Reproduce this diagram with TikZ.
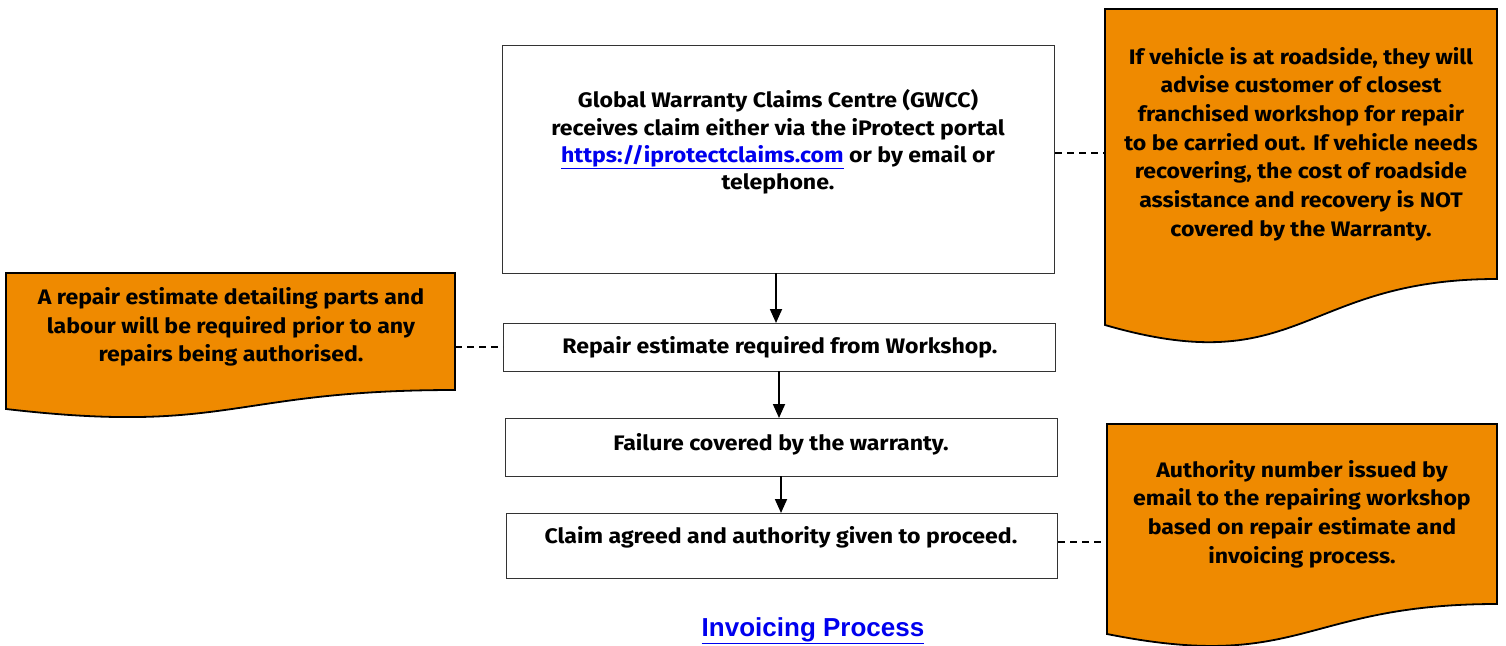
\documentclass[tikz,border=0pt]{standalone}
\usepackage{fontspec}
\setmainfont{Fira Sans}[FakeStretch=1.1]
\newfontfamily\arialfont{Liberation Sans}
\usetikzlibrary{arrows.meta}
\definecolor{noteorange}{RGB}{239,138,0}
\definecolor{linkblue}{RGB}{0,0,238}
\begin{document}
\begin{tikzpicture}[x=1pt,y=-1pt,
  flowbox/.style={draw=black!80, line width=1.2pt, fill=white, inner sep=0, anchor=north west},
  notepath/.style={draw=black, line width=1.8pt, fill=noteorange},
  txt/.style={font=\fontsize{21}{28}\selectfont\bfseries, align=center, inner sep=0},
  flowarrow/.style={-{Triangle[length=14pt,width=12pt]}, line width=1.8pt},
  notelink/.style={line width=1.4pt, dash pattern=on 7pt off 5pt}]
\useasboundingbox (0,0) rectangle (1506,645);
\fill[white] (0,0) rectangle (1506,645);

% flow boxes
\node[flowbox, minimum width=552pt, minimum height=228pt] (gwcc) at (502,45) {};
\node[flowbox, minimum width=552pt, minimum height=48pt] (repair) at (503,323) {};
\node[flowbox, minimum width=552pt, minimum height=58pt] (failure) at (505,418) {};
\node[flowbox, minimum width=551pt, minimum height=65pt] (claim) at (506,513) {};

\node[txt, font=\fontsize{21}{27.3}\selectfont\bfseries] (gwcctext) at (778,142) {Global Warranty Claims Centre (GWCC)\\receives claim either via the iProtect portal\\{\color{linkblue}\underline{https://iprotectclaims.com}} or by email or\\telephone.};
\node[txt] (repairtext) at (780,347) {Repair estimate required from Workshop.};
\node[txt] (failuretext) at (781,444) {Failure covered by the warranty.};
\node[txt] (claimtext) at (781,537) {Claim agreed and authority given to proceed.};

% notes
\draw[notepath] (1105,9) -- (1497,9) -- (1497,279) .. controls (1301,279) and (1301,382) .. (1105,325) -- cycle;
\coordinate (n1w) at (1105,153);
\node[txt, font=\fontsize{21}{28.7}\selectfont\bfseries] (n1text) at (1301,144) {If vehicle is at roadside, they will\\advise customer of closest\\franchised workshop for repair\\to be carried out. If vehicle needs\\recovering, the cost of roadside\\assistance and recovery is NOT\\covered by the Warranty.};

\draw[notepath] (6,273) -- (455,273) -- (455,390) .. controls (230,390) and (230,435) .. (6,409) -- cycle;
\coordinate (n2e) at (455,347);
\node[txt, font=\fontsize{21}{28.7}\selectfont\bfseries] (n2text) at (231,327) {A repair estimate detailing parts and\\labour will be required prior to any\\repairs being authorised.};

\draw[notepath] (1107,424) -- (1497,424) -- (1497,604) .. controls (1302,604) and (1302,673) .. (1107,634) -- cycle;
\coordinate (n3w) at (1107,542);
\node[txt, font=\fontsize{21}{28.7}\selectfont\bfseries] (n3text) at (1302,514) {Authority number issued by\\email to the repairing workshop\\based on repair estimate and\\invoicing process.};

% connectors
\draw[flowarrow] (776,273) -- (776,323);
\draw[flowarrow] (779,371) -- (779,418);
\draw[flowarrow] (781,476) -- (781,513);
\draw[notelink] (gwcc.east |- n1w) -- (n1w);
\draw[notelink] (n2e) -- (repair.west |- n2e);
\draw[notelink] (claim.east |- n3w) -- (n3w);

\node[font=\arialfont\fontsize{26}{30}\selectfont\bfseries, text=linkblue, inner sep=0] (invoice) at (813,631) {\underline{Invoicing Process}};
\end{tikzpicture}
\end{document}
